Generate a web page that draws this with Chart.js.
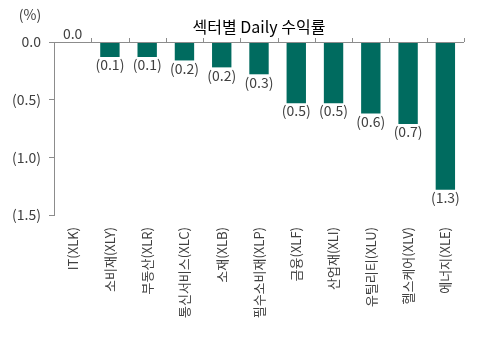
<!DOCTYPE html>
<html>
<head>
<meta charset="utf-8">
<script src="https://cdn.jsdelivr.net/npm/chart.js@4"></script>
<style>
  body { margin: 0; background: #fff; }
</style>
</head>
<body>
<canvas id="chart" width="478" height="343"></canvas>
<script>
const sectors = ["IT(XLK)", "소비재(XLY)", "부동산(XLR)", "통신서비스(XLC)", "소재(XLB)", "필수소비재(XLP)",
  "금융(XLF)", "산업재(XLI)", "유틸리티(XLU)", "헬스케어(XLV)", "에너지(XLE)"];
const dailyReturn = [0.0, -0.13, -0.13, -0.16, -0.22, -0.28, -0.53, -0.53, -0.62, -0.71, -1.28];
const yTicks = [0, -0.5, -1.0, -1.5];

const FONT = "'Noto Sans CJK KR', 'Noto Sans', sans-serif";
const fmt = v => v < 0 ? `(${Math.abs(v).toFixed(1)})` : v.toFixed(1);

// zero line with small upward ticks between categories, plus value labels, title
const extras = {
  id: "extras",
  afterDatasetsDraw(chart) {
    const { ctx, chartArea, scales } = chart;
    const y0 = scales.y.getPixelForValue(0);
    const n = sectors.length;
    const w = (chartArea.right - chartArea.left) / n;

    ctx.save();
    ctx.strokeStyle = "#8c8c8c";
    ctx.lineWidth = 1;
    ctx.beginPath();
    ctx.moveTo(chartArea.left, y0 + 0.5);
    ctx.lineTo(chartArea.right, y0 + 0.5);
    for (let i = 1; i <= n; i++) {
      const x = Math.round(chartArea.left + i * w) + 0.5;
      ctx.moveTo(x, y0);
      ctx.lineTo(x, y0 - 4);
    }
    ctx.stroke();

    ctx.fillStyle = "#404040";
    ctx.font = "14px " + FONT;
    ctx.textAlign = "center";
    chart.getDatasetMeta(0).data.forEach((bar, i) => {
      const v = dailyReturn[i];
      if (v < 0) {
        ctx.textBaseline = "top";
        ctx.fillText(fmt(v), bar.x, bar.y + 1);
      } else {
        ctx.textBaseline = "bottom";
        ctx.fillText(fmt(v), bar.x, bar.y - 1);
      }
    });

    ctx.fillStyle = "#000";
    ctx.font = "16px " + FONT;
    ctx.textBaseline = "middle";
    ctx.fillText("섹터별 Daily 수익률", (chartArea.left + chartArea.right) / 2, 27);

    ctx.fillStyle = "#404040";
    ctx.font = "14px " + FONT;
    ctx.fillText("(%)", 30, 15);
    ctx.restore();
  }
};

new Chart(document.getElementById("chart"), {
  type: "bar",
  data: {
    labels: sectors,
    datasets: [{
      data: dailyReturn,
      backgroundColor: "#006b5f",
      barPercentage: 0.52,
      categoryPercentage: 1
    }]
  },
  options: {
    responsive: false,
    animation: false,
    layout: { padding: { top: 42, right: 14, left: 0, bottom: 0 } },
    plugins: {
      legend: { display: false },
      tooltip: { enabled: false }
    },
    scales: {
      x: {
        grid: { display: false },
        border: { display: false },
        ticks: {
          minRotation: 90,
          maxRotation: 90,
          padding: 4,
          color: "#404040",
          font: { family: FONT, size: 13 }
        },
        afterFit: s => { s.height = 128; }
      },
      y: {
        min: -1.5,
        max: 0,
        afterBuildTicks: s => { s.ticks = yTicks.map(v => ({ value: v })); },
        border: { color: "#8c8c8c" },
        grid: { drawOnChartArea: false, tickLength: 5, color: "#8c8c8c" },
        ticks: {
          padding: 8,
          color: "#404040",
          font: { family: FONT, size: 14 },
          callback: v => fmt(v)
        },
        afterFit: s => { s.width = 54; }
      }
    }
  },
  plugins: [extras]
});
</script>
</body>
</html>
